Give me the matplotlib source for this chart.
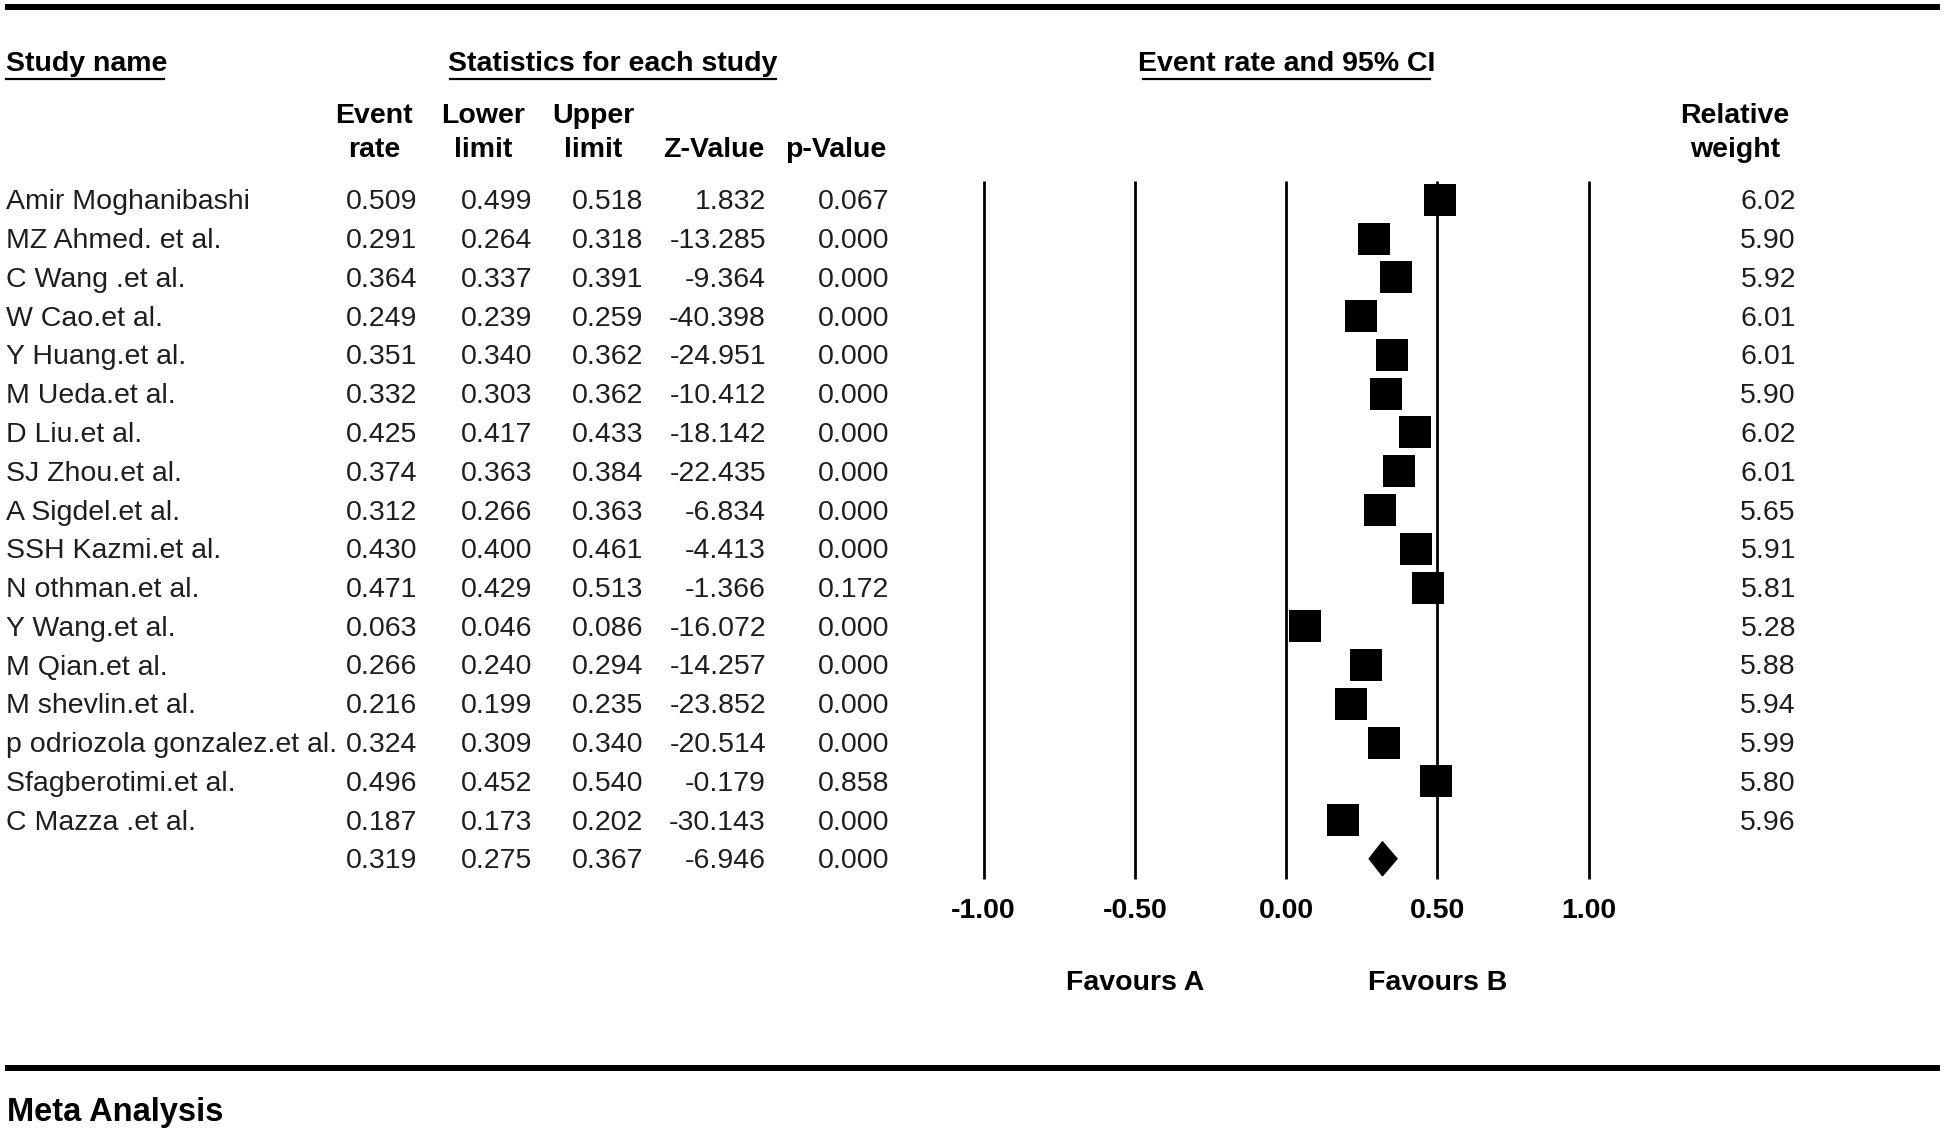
import matplotlib.pyplot as plt
from matplotlib.patches import Polygon

plt.rcParams['font.family'] = ['Liberation Sans', 'DejaVu Sans']

# ----- data -----
studies = ["Amir Moghanibashi", "MZ Ahmed. et al.", "C Wang .et al.", "W Cao.et al.",
           "Y Huang.et al.", "M Ueda.et al.", "D Liu.et al.", "SJ Zhou.et al.",
           "A Sigdel.et al.", "SSH Kazmi.et al.", "N othman.et al.", "Y Wang.et al.",
           "M Qian.et al.", "M shevlin.et al.", "p odriozola gonzalez.et al.",
           "Sfagberotimi.et al.", "C Mazza .et al."]
event_rate = [0.509, 0.291, 0.364, 0.249, 0.351, 0.332, 0.425, 0.374, 0.312,
              0.430, 0.471, 0.063, 0.266, 0.216, 0.324, 0.496, 0.187]
lower_limit = [0.499, 0.264, 0.337, 0.239, 0.340, 0.303, 0.417, 0.363, 0.266,
               0.400, 0.429, 0.046, 0.240, 0.199, 0.309, 0.452, 0.173]
upper_limit = [0.518, 0.318, 0.391, 0.259, 0.362, 0.362, 0.433, 0.384, 0.363,
               0.461, 0.513, 0.086, 0.294, 0.235, 0.340, 0.540, 0.202]
z_value = [1.832, -13.285, -9.364, -40.398, -24.951, -10.412, -18.142, -22.435,
           -6.834, -4.413, -1.366, -16.072, -14.257, -23.852, -20.514, -0.179, -30.143]
p_value = [0.067, 0.000, 0.000, 0.000, 0.000, 0.000, 0.000, 0.000, 0.000,
           0.000, 0.172, 0.000, 0.000, 0.000, 0.000, 0.858, 0.000]
rel_weight = [6.02, 5.90, 5.92, 6.01, 6.01, 5.90, 6.02, 6.01, 5.65,
              5.91, 5.81, 5.28, 5.88, 5.94, 5.99, 5.80, 5.96]

pooled_rate = 0.319
pooled_lower = 0.275
pooled_upper = 0.367
pooled_z = -6.946
pooled_p = 0.000

axis_ticks = [-1.00, -0.50, 0.00, 0.50, 1.00]

# ----- figure: one axes over the whole canvas -----
W, H = 1946, 1134
fig = plt.figure(figsize=(W / 100, H / 100), dpi=100)
ax = fig.add_axes([0, 0, 1, 1])
ax.axis("off")

# layout in pixels -> data units (x = event rate scale, y = row index)
X0, UNIT = 1286, 302.5
Y0, ROW = 200, 38.75
def px(x): return (x - X0) / UNIT
def py(y): return (y - Y0) / ROW

ax.set_xlim(px(0), px(W))
ax.set_ylim(py(H), py(0))

FS = 20.5
TXT = "#1e1e1e"
DY = 2.5 / ROW   # text sits a touch lower than the marks

# horizontal rules
ax.plot([px(5), px(1940)], [py(7), py(7)], color="black", lw=4.3, solid_capstyle="butt")
ax.plot([px(5), px(1940)], [py(1068), py(1068)], color="black", lw=4.3, solid_capstyle="butt")

# group headers with underlines
headers = [("Study name", 6, 164, "left"),
           ("Statistics for each study", 450, 776, "center"),
           ("Event rate and 95% CI", 1143, 1430, "center")]
for label, x1, x2, ha in headers:
    xt = x1 if ha == "left" else (x1 + x2) / 2
    ax.text(px(xt), py(64.5), label, ha=ha, va="center", fontsize=FS, weight="bold", color="black")
    ax.plot([px(x1), px(x2)], [py(79), py(79)], color="black", lw=1.6)

# column headers
col_heads = [(("Event", "rate"), 374), (("Lower", "limit"), 483), (("Upper", "limit"), 593),
             (("", "Z-Value"), 714), (("", "p-Value"), 836), (("Relative", "weight"), 1735)]
for (l1, l2), xc in col_heads:
    ax.text(px(xc), py(116.5), l1, ha="center", va="center", fontsize=FS, weight="bold", color="black")
    ax.text(px(xc), py(150.5), l2, ha="center", va="center", fontsize=FS, weight="bold", color="black")

# table rows
n = len(studies)
rows = list(range(n))
col_right = [417, 532, 643, 766, 889]
for i in rows:
    ax.text(px(6), i + DY, studies[i], ha="left", va="center", fontsize=FS, color=TXT)
    vals = [event_rate[i], lower_limit[i], upper_limit[i], z_value[i], p_value[i]]
    for v, xr in zip(vals, col_right):
        ax.text(px(xr), i + DY, f"{v:.3f}", ha="right", va="center", fontsize=FS, color=TXT)
    ax.text(px(1796), i + DY, f"{rel_weight[i]:.2f}", ha="right", va="center", fontsize=FS, color=TXT)

pooled = [pooled_rate, pooled_lower, pooled_upper, pooled_z, pooled_p]
for v, xr in zip(pooled, col_right):
    ax.text(px(xr), n + DY, f"{v:.3f}", ha="right", va="center", fontsize=FS, color=TXT)

# forest panel: reference lines
ax.vlines(axis_ticks, py(181), py(879), color="black", lw=2.0)

# confidence intervals and boxes
ax.hlines(rows, lower_limit, upper_limit, color="black", lw=1.5)
ax.plot(event_rate, rows, "s", color="black", ms=23, mew=0)

# pooled diamond
hh = 17 / ROW
diamond = Polygon([(pooled_lower, n), (pooled_rate, n - hh), (pooled_upper, n), (pooled_rate, n + hh)],
                  closed=True, facecolor="black", edgecolor="black")
ax.add_patch(diamond)

# axis labels
for t in axis_ticks:
    ax.text(t, py(910.5), f"{t:.2f}", ha="center", va="center", fontsize=FS, weight="bold", color="black")
ax.text(-0.5, py(983.5), "Favours A", ha="center", va="center", fontsize=FS, weight="bold", color="black")
ax.text(0.5, py(983.5), "Favours B", ha="center", va="center", fontsize=FS, weight="bold", color="black")

ax.text(px(7), py(1112.5), "Meta Analysis", ha="left", va="center", fontsize=23.5, weight="bold", color="black")

fig.savefig("out.png", dpi=100)
